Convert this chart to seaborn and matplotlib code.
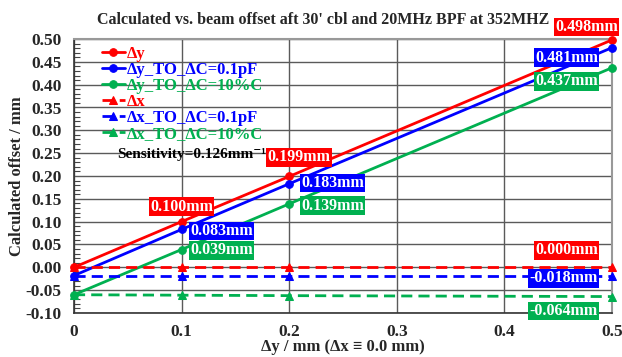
import matplotlib
matplotlib.use("Agg")
import matplotlib.pyplot as plt
import seaborn as sns
import pandas as pd
from matplotlib.ticker import MultipleLocator

x_vals = [0.0, 0.1, 0.2, 0.5]
dy = [0.000, 0.100, 0.199, 0.498]
dy_to_01pf = [-0.018, 0.083, 0.183, 0.481]
dy_to_10pc = [-0.060, 0.039, 0.139, 0.437]
dx = [0.000, 0.000, 0.000, 0.000]
dx_to_01pf = [-0.018, -0.018, -0.018, -0.018]
dx_to_10pc = [-0.060, -0.061, -0.062, -0.064]

names = ["Δy", "Δy_TO_ΔC=0.1pF", "Δy_TO_ΔC=10%C",
         "Δx", "Δx_TO_ΔC=0.1pF", "Δx_TO_ΔC=10%C"]
series = [dy, dy_to_01pf, dy_to_10pc, dx, dx_to_01pf, dx_to_10pc]
colors = ["#FF0000", "#0000FF", "#00B050", "#FF0000", "#0000FF", "#00B050"]

sns.set_theme(style="white")
plt.rcParams['font.family'] = ['Liberation Serif', 'DejaVu Serif']
plt.rcParams['font.weight'] = 'bold'

fig = plt.figure(figsize=(6.22, 3.57), dpi=100)
ax = fig.add_axes([74/622, 1 - 313/357, (612-74)/622, (313-39)/357])

for i, (nm, vals, c) in enumerate(zip(names, series, colors)):
    df = pd.DataFrame({"x": x_vals, "y": vals})
    is_dx = i >= 3
    sns.lineplot(data=df, x="x", y="y", ax=ax, color=c, label=nm,
                 marker="^" if is_dx else "o", markersize=5.5,
                 markeredgecolor=c, linewidth=2,
                 linestyle=(0, (4, 2.2)) if is_dx else "-", clip_on=False, zorder=3)

ax.set_xlim(0, 0.5)
ax.yaxis.set_minor_locator(MultipleLocator(0.01))
ax.set_xticks([0, 0.1, 0.2, 0.3, 0.4, 0.5])
ax.set_xticklabels(["0", "0.1", "0.2", "0.3", "0.4", "0.5"])
ax.set_yticks([-0.10 + 0.05 * k for k in range(13)])
ax.set_yticklabels([f"{-0.10 + 0.05 * k:.2f}" for k in range(13)])
ax.set_ylim(-0.10, 0.50)
ax.grid(True, which="major", color="#5a5a5a", linewidth=1)
ax.tick_params(axis="y", which="minor", direction="in", length=4, left=True, width=0.8, color="#444444")
ax.tick_params(axis="y", which="major", direction="in", length=0, left=True, pad=9)
ax.tick_params(axis="x", which="major", length=0, pad=8)
ax.tick_params(axis="both", labelsize=12.5)
for lab in ax.get_xticklabels() + ax.get_yticklabels():
    lab.set_fontweight("bold")
for s in ["top", "right"]:
    ax.spines[s].set_color("#999999")
    ax.spines[s].set_linewidth(1.5)
for s in ["left", "bottom"]:
    ax.spines[s].set_color("#333333")
    ax.spines[s].set_linewidth(1.2)

ax.set_xlabel("Δy / mm (Δx ≡ 0.0 mm)", fontsize=12, fontweight="bold")
ax.xaxis.set_label_coords(0.5, (313 - 339) / 274)
ax.set_ylabel("Calculated offset / mm", fontsize=12, fontweight="bold")
ax.yaxis.set_label_coords((25 - 74) / 538, 0.5)
fig.text(0.52, 0.945, "Calculated vs. beam offset aft 30' cbl and 20MHz BPF at 352MHZ",
         ha="center", va="center", fontsize=11.5, fontweight="bold")

leg = ax.legend(loc="upper left", frameon=False, fontsize=12, handlelength=1.35,
                handletextpad=0.12, labelspacing=0.0, borderaxespad=0.0,
                bbox_to_anchor=(0.04, 1.0))
for t, c in zip(leg.get_texts(), colors):
    t.set_color(c)
    t.set_fontweight("bold")

ax.text(0.04, 0.246, "Sensitivity=0.126mm⁻¹", fontsize=11, fontweight="bold",
        color="black", ha="left", va="center")

# value labels
labels = [
    (0.1, 0.133, "0.100mm", "#FF0000", "center"),
    (0.18, 0.241, "0.199mm", "#FF0000", "left"),
    (0.447, 0.526, "0.498mm", "#FF0000", "left"),
    (0.108, 0.080, "0.083mm", "#0000FF", "left"),
    (0.211, 0.185, "0.183mm", "#0000FF", "left"),
    (0.487, 0.459, "0.481mm", "#0000FF", "right"),
    (0.108, 0.037, "0.039mm", "#00B050", "left"),
    (0.211, 0.135, "0.139mm", "#00B050", "left"),
    (0.487, 0.407, "0.437mm", "#00B050", "right"),
    (0.487, 0.037, "0.000mm", "#FF0000", "right"),
    (0.487, -0.024, "-0.018mm", "#0000FF", "right"),
    (0.487, -0.096, "-0.064mm", "#00B050", "right"),
]
for xx, yy, txt, c, ha in labels:
    ax.text(xx, yy, txt, color="white", fontsize=11.5, fontweight="bold",
            ha=ha, va="center", clip_on=False, zorder=5,
            bbox=dict(boxstyle="square,pad=0.08", facecolor=c, edgecolor="none"))

fig.savefig("out.png", dpi=100)
